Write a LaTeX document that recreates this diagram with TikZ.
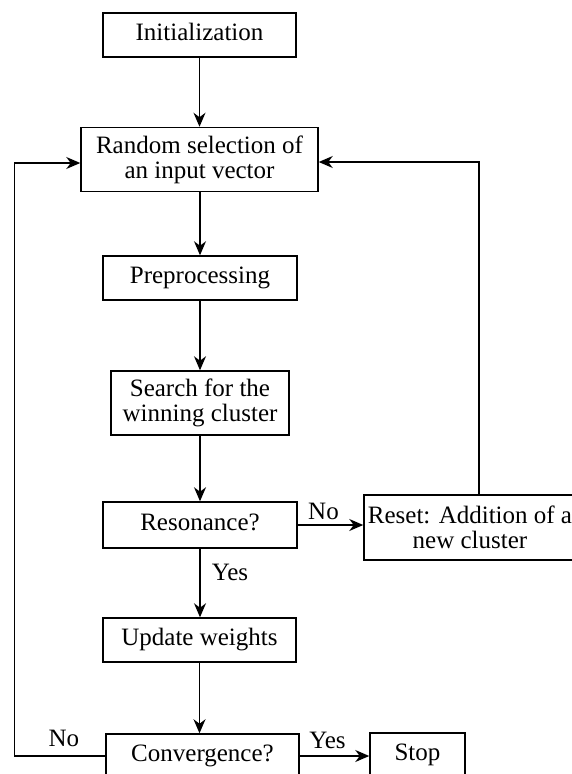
\documentclass[tikz,border=0pt]{standalone}
\usepackage{fontspec}
\setmainfont{Liberation Serif}
\usetikzlibrary{arrows.meta}
\begin{document}
\begin{tikzpicture}[x=1pt,y=-1pt,
  box/.style={draw, line width=1.5pt, inner sep=0pt, align=center, font=\fontsize{25}{25}\selectfont},
  one/.style={text height=17pt, text depth=6pt},
  conn/.style={line width=1.5pt, -{Stealth[length=14pt,width=12pt,inset=4.5pt]}},
  lbl/.style={font=\fontsize{25}{25}\selectfont, inner sep=0pt}]
\useasboundingbox (0,0) rectangle (572,774);
\node[box, one, minimum width=193pt, minimum height=44pt] (init) at (199.5,35) {Initialization};
\node[box, minimum width=237pt, minimum height=64pt] (rand) at (199.5,159.5) {Random selection of\\an input vector};
\node[box, one, minimum width=194pt, minimum height=44pt] (pre) at (200,278) {Preprocessing};
\node[box, minimum width=178pt, minimum height=64pt] (search) at (200,403) {Search for the\\winning cluster};
\node[box, one, minimum width=194pt, minimum height=46pt] (reson) at (200,525) {Resonance?};
\node[box, minimum width=212pt, minimum height=65pt] (reset) at (470,527.5) {Reset: Addition of a\\new cluster};
\node[box, one, minimum width=193pt, minimum height=44pt] (update) at (199.5,640) {Update weights};
\node[box, one, minimum width=193pt, minimum height=44pt] (conv) at (202.5,756) {Convergence?};
\node[box, one, minimum width=95pt, minimum height=44pt] (stop) at (417.5,755) {Stop};
\coordinate (rtop) at (479,162);
\coordinate (lbot) at (14.6,756);
\coordinate (ltop) at (14.6,163);
\draw[conn] (init.south) -- (init.south |- rand.north);
\draw[conn] (rand.south -| pre.north) -- (pre.north);
\draw[conn] (pre.south) -- (search.north);
\draw[conn] (search.south) -- (reson.north);
\draw[conn] (reson.south) -- node[lbl, pos=0.35, right=11pt] {Yes} (update.north -| reson.south);
\draw[conn] (update.south) -- (update.south |- conv.north);
\draw[conn] (reson.east) -- node[lbl, above=5pt, xshift=-7pt] {No} (reson.east -| reset.west);
\draw[conn] (reset.north -| rtop) -- (rtop) -- (rtop -| rand.east);
\draw[conn] (conv.west) -- node[lbl, above=9pt, xshift=4pt] {No} (lbot) -- (ltop) -- (ltop -| rand.west);
\draw[conn] (conv.east) -- node[lbl, above=7pt, xshift=-7pt] {Yes} (conv.east -| stop.west);
\end{tikzpicture}
\end{document}
